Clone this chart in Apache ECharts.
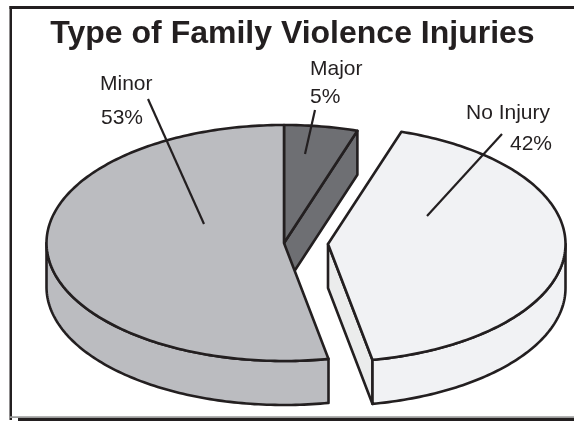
<!DOCTYPE html>
<html>
<head>
<meta charset="utf-8">
<style>html,body{margin:0;padding:0;background:#fff}#c{width:574px;height:421px}</style>
<script src="https://cdn.jsdelivr.net/npm/echarts@6/dist/echarts.min.js"></script>
</head>
<body>
<div id="c"></div>
<script>
// Data
var chartTitle = 'Type of Family Violence Injuries';
var categories = ['Major', 'No Injury', 'Minor'];
var percents = [5, 42, 53];

// Layout and style, per slice in the same order
var sliceCentres = [[284, 243], [328, 244], [284, 243]];
var sliceColours = ['#6e6f73', '#f1f2f4', '#bbbcc0'];
var cutWallColours = ['#6e6f73', '#ebecec', '#bbbcc0'];
var leaders = [
  [[315, 110], [305, 154]],
  [[502, 134], [427, 216]],
  [[148, 99], [204, 224]]
];
var nameAnchors = [[310, 69], [466, 113.5], [100, 84]];
var pctAnchors = [[310, 97], [510, 144.5], [101, 118]];

var RX = 237.5, RY = 118, DEPTH = 44, INK = '#231f20', LW = 2.6;

function pt(c, deg, dy) {
  var a = deg * Math.PI / 180;
  return [c[0] + RX * Math.sin(a), c[1] - RY * Math.cos(a) + (dy || 0)];
}
function arc(c, from, to, dy) {
  var out = [], n = Math.max(2, Math.ceil(Math.abs(to - from)));
  for (var i = 0; i <= n; i++) out.push(pt(c, from + (to - from) * i / n, dy));
  return out;
}
function poly(points, fill) {
  return { type: 'polygon', shape: { points: points },
    style: { fill: fill, stroke: INK, lineWidth: LW, lineJoin: 'round' } };
}
function label(text, p) {
  return { type: 'text', x: p[0], y: p[1],
    style: { text: text, fill: INK, font: '21px "Liberation Sans", Arial, sans-serif',
      align: 'left', verticalAlign: 'middle' } };
}
var total = percents.reduce(function (s, v) { return s + v; }, 0);

function renderSlice(params, api) {
  var i = params.dataIndex, v = api.value(0), c = sliceCentres[i], start = 0;
  for (var k = 0; k < i; k++) start += percents[k];
  var a0 = start / total * 360, a1 = (start + v) / total * 360;
  var kids = [];
  // cut faces that look towards the viewer
  [[a0, -1], [a1, 1]].forEach(function (e) {
    if (e[1] * Math.sin(e[0] * Math.PI / 180) > 1e-6) {
      var rim = pt(c, e[0]);
      kids.push(poly([c, rim, [rim[0], rim[1] + DEPTH], [c[0], c[1] + DEPTH]], cutWallColours[i]));
    }
  });
  // outer wall, only the front half of the rim
  var w0 = Math.max(a0, 90), w1 = Math.min(a1, 270);
  if (w1 > w0) {
    kids.push(poly(arc(c, w0, w1, 0).concat(arc(c, w1, w0, DEPTH)), sliceColours[i]));
  }
  // top face
  kids.push(poly([c].concat(arc(c, a0, a1, 0)), sliceColours[i]));
  // leader and labels
  kids.push({ type: 'polyline', shape: { points: leaders[i] },
    style: { fill: null, stroke: INK, lineWidth: 2.2 } });
  kids.push(label(categories[i], nameAnchors[i]));
  kids.push(label(v + '%', pctAnchors[i]));
  return { type: 'group', children: kids };
}

var chart = echarts.init(document.getElementById('c'), null, { renderer: 'canvas' });
chart.setOption({
  animation: false,
  backgroundColor: '#ffffff',
  title: {
    text: chartTitle, left: 287.5, top: 29, textAlign: 'center', textVerticalAlign: 'middle',
    textStyle: { color: INK, fontFamily: '"Liberation Sans", Arial, sans-serif', fontWeight: 'bold', fontSize: 32 }
  },
  graphic: [
    { type: 'rect', shape: { x: 9.5, y: 6, width: 565, height: 3 }, style: { fill: INK } },
    { type: 'rect', shape: { x: 9.5, y: 6, width: 2.5, height: 414 }, style: { fill: INK } },
    { type: 'rect', shape: { x: 9.5, y: 416.2, width: 565, height: 1.8 }, style: { fill: '#9a9a9a' } },
    { type: 'rect', shape: { x: 18, y: 418, width: 556, height: 3 }, style: { fill: INK } }
  ],
  series: [{
    type: 'custom',
    coordinateSystem: 'none',
    renderItem: renderSlice,
    data: categories.map(function (n, i) { return { name: n, value: [percents[i]] }; })
  }]
});
</script>
</body>
</html>
